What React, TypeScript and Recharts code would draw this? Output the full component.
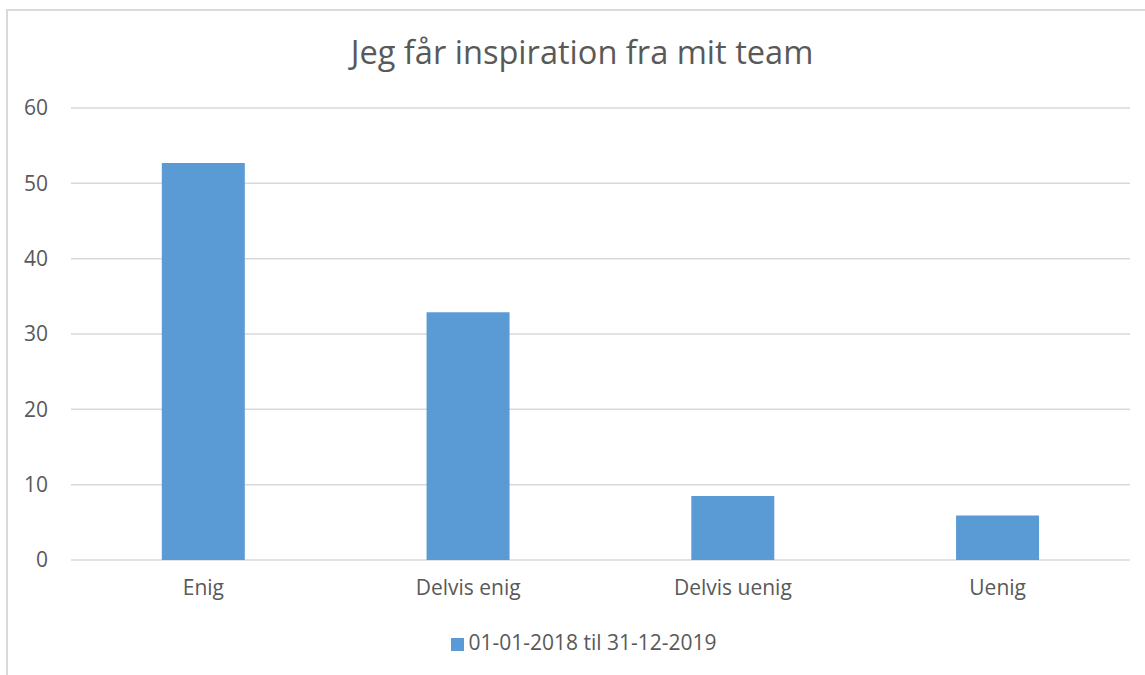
import React from 'react';
import { BarChart, Bar, XAxis, YAxis, CartesianGrid, Legend } from 'recharts';

const categories = ['Enig', 'Delvis enig', 'Delvis uenig', 'Uenig'];
const values = [52.7, 32.9, 8.5, 5.9];
const yTicks = [0, 10, 20, 30, 40, 50, 60];
const seriesName = '01-01-2018 til 31-12-2019';

const data = categories.map((c, i) => ({ name: c, value: values[i] }));

const FONT = '"Open Sans", sans-serif';
const TEXT = '#595959';

const App: React.FC = () => {
  return (
    <div style={{ position: 'fixed', left: 0, top: 0, width: 1145, height: 675, overflow: 'hidden', background: '#fff', fontFamily: FONT }}>
      <div style={{ position: 'absolute', left: 6, top: 9, width: 1160, height: 700, border: '2px solid #d9d9d9' }} />
      <div style={{ position: 'absolute', left: 0, top: 29, width: 1164, textAlign: 'center', fontSize: 32.6, color: TEXT }}>
        Jeg får inspiration fra mit team
      </div>
      <div style={{ position: 'absolute', left: 0, top: 0 }}>
        <BarChart width={1145} height={675} data={data} margin={{ top: 108, right: 15, left: 0, bottom: 57 }} barCategoryGap="34.3%">
          <CartesianGrid vertical={false} stroke="#d9d9d9" strokeWidth={1.5} />
          <XAxis dataKey="name" axisLine={false} tickLine={false} tickSize={0} tickMargin={20}
            tick={{ fill: TEXT, fontSize: 21, fontFamily: FONT }} />
          <YAxis width={71} domain={[0, 60]} ticks={yTicks} axisLine={false} tickLine={false} tickSize={0} tickMargin={23}
            tick={{ fill: TEXT, fontSize: 21, fontFamily: FONT }} />
          <Legend iconType="square" iconSize={13}
            wrapperStyle={{ position: 'absolute', top: 628, left: 0, width: 1178, fontSize: 21, fontFamily: FONT }}
            formatter={(v) => <span style={{ color: TEXT }}>{v}</span>} />
          <Bar dataKey="value" name={seriesName} fill="#5b9bd5" isAnimationActive={false} />
        </BarChart>
      </div>
    </div>
  );
};

export default App;
